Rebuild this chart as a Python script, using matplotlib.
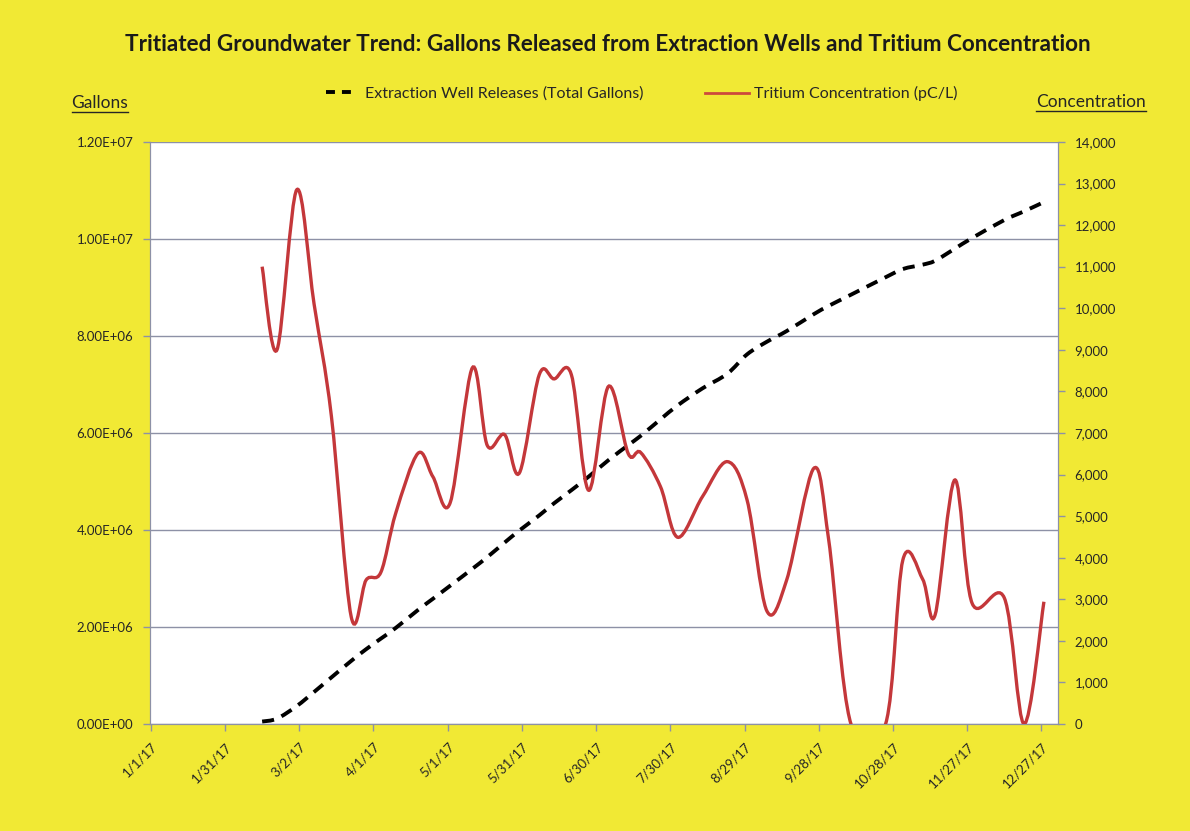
import numpy as np
import pandas as pd
import matplotlib
matplotlib.use("Agg")
import matplotlib.pyplot as plt
import matplotlib.dates as mdates
from matplotlib.path import Path
from matplotlib.patches import PathPatch
from matplotlib.lines import Line2D
from matplotlib.ticker import FuncFormatter

plt.rcParams['font.family'] = ['Lato', 'DejaVu Sans']

# sample dates (2017)
sample_dates = ['2017-02-15', '2017-02-21', '2017-03-01', '2017-03-08', '2017-03-15',
                '2017-03-23', '2017-03-29', '2017-04-04', '2017-04-10', '2017-04-19',
                '2017-04-25', '2017-05-02', '2017-05-11', '2017-05-17', '2017-05-24',
                '2017-05-30', '2017-06-07', '2017-06-13', '2017-06-20', '2017-06-27',
                '2017-07-05', '2017-07-13', '2017-07-18', '2017-07-26', '2017-08-02',
                '2017-08-12', '2017-08-22', '2017-08-30', '2017-09-07', '2017-09-15',
                '2017-09-26', '2017-10-02', '2017-10-11', '2017-10-25', '2017-11-01',
                '2017-11-09', '2017-11-14', '2017-11-22', '2017-11-29', '2017-12-12',
                '2017-12-20', '2017-12-28']

# cumulative extraction well releases (gallons)
gallons = [50e3, 110e3, 370e3, 660e3, 960e3,
           1.30e6, 1.54e6, 1.76e6, 1.98e6, 2.35e6,
           2.58e6, 2.85e6, 3.20e6, 3.44e6, 3.74e6,
           3.99e6, 4.30e6, 4.55e6, 4.82e6, 5.10e6,
           5.44e6, 5.75e6, 5.94e6, 6.28e6, 6.57e6,
           6.92e6, 7.22e6, 7.62e6, 7.88e6, 8.10e6,
           8.45e6, 8.62e6, 8.85e6, 9.21e6, 9.38e6,
           9.47e6, 9.55e6, 9.80e6, 10.02e6, 10.39e6,
           10.57e6, 10.76e6]

# tritium concentration (pC/L)
tritium = [11000, 9000, 12850, 10100, 7400,
           2580, 3460, 3650, 5070, 6510,
           5950, 5320, 8570, 6700, 6960,
           6040, 8400, 8300, 8400, 5620,
           8120, 6500, 6530, 5710, 4490,
           5470, 6310, 5390, 2720, 3460,
           6150, 4430, 0, 0, 3950,
           3480, 2620, 5870, 2900, 3030,
           0, 2940]

tick_dates = ['2017-01-01', '2017-01-31', '2017-03-02', '2017-04-01', '2017-05-01',
              '2017-05-31', '2017-06-30', '2017-07-30', '2017-08-29', '2017-09-28',
              '2017-10-28', '2017-11-27', '2017-12-27']
tick_labels = ['1/1/17', '1/31/17', '3/2/17', '4/1/17', '5/1/17', '5/31/17', '6/30/17',
               '7/30/17', '8/29/17', '9/28/17', '10/28/17', '11/27/17', '12/27/17']

YELLOW = '#f1e934'
TXT = '#262626'
GRID = '#8d91a6'
RED = '#c4373a'


def smooth_path(x, y):
    # Excel style smoothed line: cubic Bezier through every point
    pts = np.column_stack([x, y]).astype(float)
    n = len(pts)
    verts = [pts[0]]
    codes = [Path.MOVETO]
    for i in range(n - 1):
        p0 = pts[max(i - 1, 0)]
        p1 = pts[i]
        p2 = pts[i + 1]
        p3 = pts[min(i + 2, n - 1)]
        verts += [p1 + (p2 - p0) / 6, p2 - (p3 - p1) / 6, p2]
        codes += [Path.CURVE4] * 3
    return Path(verts, codes)


xd = mdates.date2num(pd.to_datetime(sample_dates))
xt = mdates.date2num(pd.to_datetime(tick_dates))

fig = plt.figure(figsize=(11.9, 8.31), dpi=100, facecolor=YELLOW)
ax = fig.add_axes([0.1261, 0.1288, 0.763, 0.7004])
ax.set_facecolor('white')
ax2 = ax.twinx()

# gallons, left axis
ax.add_patch(PathPatch(smooth_path(xd, gallons), fill=False, edgecolor='black',
                       lw=2.8, linestyle=(0, (3.1, 2.1)), zorder=3))
ax.set_ylim(0, 1.2e7)
ax.set_yticks(np.arange(0, 1.2e7 + 1, 2e6))
ax.yaxis.set_major_formatter(FuncFormatter(lambda v, p: f"{v:.2E}"))
ax.grid(axis='y', color=GRID, lw=1)
ax.set_axisbelow(True)

# concentration, right axis
ax2.add_patch(PathPatch(smooth_path(xd, tritium), fill=False, edgecolor=RED,
                        lw=2.4, zorder=3))
ax2.set_ylim(0, 14000)
ax2.set_yticks(np.arange(0, 14001, 1000))
ax2.yaxis.set_major_formatter(FuncFormatter(lambda v, p: f"{v:,.0f}"))

ax.set_xlim(xt[0] - 0.3, xt[0] + 366.7)
ax.set_xticks(xt)
ax.set_xticklabels(tick_labels, rotation=45, ha='right', rotation_mode='anchor')

for a in (ax, ax2):
    for s in a.spines.values():
        s.set_color(GRID)
    a.spines['top'].set_visible(False)
    a.tick_params(colors=GRID, labelcolor=TXT, length=5, width=1, labelsize=9.5)
ax.tick_params(axis='x', pad=7)
ax.tick_params(axis='y', pad=7)
ax2.tick_params(axis='y', pad=7)

fig.text(0.511, 0.946,
         'Tritiated Groundwater Trend: Gallons Released from Extraction Wells and Tritium Concentration',
         ha='center', va='center', fontsize=16.2, fontweight='bold', color='#1a1a1a')

# legend: two single-entry legends so each key gets its own length
fig.legend([Line2D([], [], color='black', lw=2.8, linestyle=(0, (2.3, 1.8)))],
           ['Extraction Well Releases (Total Gallons)'],
           loc='center left', bbox_to_anchor=(326 / 1190, 0.887), frameon=False,
           fontsize=11.5, handlelength=1.56, handletextpad=0.87,
           borderpad=0, borderaxespad=0, labelcolor=TXT)
fig.legend([Line2D([], [], color='#cc4a3c', lw=2.0)],
           ['Tritium Concentration (pC/L)'],
           loc='center left', bbox_to_anchor=(705 / 1190, 0.887), frameon=False,
           fontsize=11.5, handlelength=2.75, handletextpad=0.3,
           borderpad=0, borderaxespad=0, labelcolor=TXT)

lab_l = fig.text(0.084, 0.876, 'Gallons', ha='center', va='center', fontsize=12.5, color=TXT)
lab_r = fig.text(0.917, 0.877, 'Concentration', ha='center', va='center', fontsize=12.5, color=TXT)

fig.canvas.draw()
r = fig.canvas.get_renderer()
W, H = fig.bbox.width, fig.bbox.height
for t in (lab_l, lab_r):
    bb = t.get_window_extent(r)
    y = (bb.y0 - 1) / H
    fig.add_artist(Line2D([bb.x0 / W, bb.x1 / W], [y, y], color=TXT, lw=1.0))

fig.savefig('out.png', dpi=100, facecolor=YELLOW)
